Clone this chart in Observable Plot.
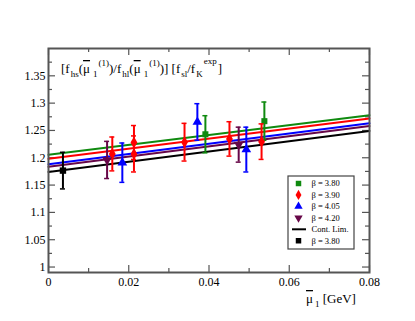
<!DOCTYPE html>
<html>
<head>
<meta charset="utf-8">
<script src="https://cdn.jsdelivr.net/npm/d3@7"></script>
<script src="https://cdn.jsdelivr.net/npm/@observablehq/plot@0.6"></script>
<style>
  html, body { margin: 0; padding: 0; background: #fff; }
  #chart { width: 415px; height: 321px; }
</style>
</head>
<body>
<div id="chart"></div>
<script>
// ---- data ----
const seriesNames = ["β = 3.80", "β = 3.90", "β = 4.05", "β = 4.20"];
const seriesColors = ["#0f8a0f", "#ff0000", "#0000ff", "#670748"];
const seriesSymbols = ["square", "diamond", "triangle", "triangle"];
const seriesRotate = [0, 0, 0, 180];

const x380 = [0.0391, 0.0538];
const y380 = [1.243, 1.267];
const e380 = [0.034, 0.035];

const x390 = [0.0159, 0.0213, 0.0213, 0.0339, 0.0451, 0.0531];
const y390 = [1.207, 1.228, 1.207, 1.2285, 1.2345, 1.2295];
const e390 = [0.031, 0.031, 0.033, 0.0345, 0.0315, 0.0325];

const x405 = [0.0184, 0.0371, 0.0493];
const y405 = [1.191, 1.2655, 1.215];
const e405 = [0.036, 0.0335, 0.041];

const x420 = [0.0146, 0.0474];
const y420 = [1.196, 1.224];
const e420 = [0.034, 0.032];

const contX = [0.0036];
const contY = [1.1765];
const contE = [0.0335];

// fit lines: value at x = 0 and x = 0.08
const fitX = [0, 0.08];
const fitStart = [1.2055, 1.198, 1.188, 1.1835, 1.174];
const fitEnd = [1.278, 1.272, 1.263, 1.258, 1.249];
const fitColors = ["#0f8a0f", "#ff0000", "#0000ff", "#670748", "#000000"];

const xMajor = [0, 0.02, 0.04, 0.06, 0.08];
const xMinor = [0.01, 0.03, 0.05, 0.07];
const yMajor = [1, 1.05, 1.1, 1.15, 1.2, 1.25, 1.3, 1.35];
const yMinor = [1.025, 1.075, 1.125, 1.175, 1.225, 1.275, 1.325, 1.375];

const legendLabels = ["β = 3.80", "β = 3.90", "β = 4.05", "β = 4.20", "Cont. Lim.", "β = 3.80"];

// ---- build tables ----
const seriesX = [x380, x390, x405, x420];
const seriesY = [y380, y390, y405, y420];
const seriesE = [e380, e390, e405, e420];
const points = [];
seriesX.forEach((xs, s) => xs.forEach((x, i) => points.push({s, x, y: seriesY[s][i], e: seriesE[s][i]})));
const cont = contX.map((x, i) => ({x, y: contY[i], e: contE[i]}));
const fitLines = [];
fitStart.forEach((v, s) => {
  fitLines.push({s, x: fitX[0], y: v});
  fitLines.push({s, x: fitX[1], y: fitEnd[s]});
});

const W = 415, H = 321, mL = 48, mR = 46, mT = 48, mB = 49;
const iw = W - mL - mR, ih = H - mT - mB;
const fmt = d => String(+d.toFixed(3));
const axisCol = "#555";

const marks = [];
// tick marks (inward) on all four sides
[[yMajor, 7], [yMinor, 4]].forEach(([vals, len]) => {
  marks.push(Plot.tickY(vals, {y: d => d, insetRight: iw - len, stroke: axisCol, strokeWidth: 1.2}));
  marks.push(Plot.tickY(vals, {y: d => d, insetLeft: iw - len, stroke: axisCol, strokeWidth: 1.2}));
});
[[xMajor, 7], [xMinor, 4]].forEach(([vals, len]) => {
  marks.push(Plot.tickX(vals, {x: d => d, insetTop: ih - len, stroke: axisCol, strokeWidth: 1.2}));
  marks.push(Plot.tickX(vals, {x: d => d, insetBottom: ih - len, stroke: axisCol, strokeWidth: 1.2}));
});
marks.push(Plot.axisY({ticks: yMajor, tickSize: 0, tickPadding: 3, tickFormat: fmt, fontSize: 12, label: null}));
marks.push(Plot.axisX({ticks: xMajor, tickSize: 0, tickPadding: 5, tickFormat: fmt, fontSize: 12, label: null}));

// fit lines
marks.push(Plot.line(fitLines, {x: "x", y: "y", z: "s", stroke: d => fitColors[d.s], strokeWidth: 2}));

// error bars + markers per series
seriesNames.forEach((name, s) => {
  const pts = points.filter(p => p.s === s);
  const c = seriesColors[s];
  marks.push(Plot.ruleX(pts, {x: "x", y1: d => d.y - d.e, y2: d => d.y + d.e, stroke: c, strokeWidth: 2}));
  marks.push(Plot.ruleY(pts, {x1: "x", x2: "x", y: d => d.y - d.e, insetLeft: -2.5, insetRight: -2.5, stroke: c, strokeWidth: 1.5}));
  marks.push(Plot.ruleY(pts, {x1: "x", x2: "x", y: d => d.y + d.e, insetLeft: -2.5, insetRight: -2.5, stroke: c, strokeWidth: 1.5}));
  marks.push(Plot.dot(pts, {x: "x", y: "y", symbol: seriesSymbols[s], rotate: seriesRotate[s], r: s === 0 ? 3.4 : 3.6, fill: c, stroke: "none"}));
});
marks.push(Plot.ruleX(cont, {x: "x", y1: d => d.y - d.e, y2: d => d.y + d.e, stroke: "#000", strokeWidth: 2}));
marks.push(Plot.ruleY(cont, {x1: "x", x2: "x", y: d => d.y - d.e, insetLeft: -2.5, insetRight: -2.5, stroke: "#000", strokeWidth: 1.5}));
marks.push(Plot.ruleY(cont, {x1: "x", x2: "x", y: d => d.y + d.e, insetLeft: -2.5, insetRight: -2.5, stroke: "#000", strokeWidth: 1.5}));
marks.push(Plot.dot(cont, {x: "x", y: "y", symbol: "square", r: 3.6, fill: "#000"}));

marks.push(Plot.frame({stroke: axisCol, strokeWidth: 2}));

const plot = Plot.plot({
  width: W, height: H,
  marginLeft: mL, marginRight: mR, marginTop: mT, marginBottom: mB,
  style: {fontFamily: "'Liberation Serif', 'Times New Roman', serif", fontSize: "12px", color: "#000", background: "#fff"},
  x: {domain: [0, 0.08]},
  y: {domain: [0.99, 1.40]},
  marks
});
document.getElementById("chart").appendChild(plot);

// ---- title inside the plot, with sub/superscripts ----
const svg = d3.select(plot);
function richText(x, y, size, segs) {
  const t = svg.append("text").attr("x", x).attr("y", y).attr("text-anchor", "start")
    .attr("font-family", "'Liberation Serif', serif").attr("font-size", size).attr("fill", "#000");
  let cur = 0;
  segs.forEach(sg => {
    const off = sg.off || 0;
    const ts = t.append("tspan").text(sg.t).attr("dy", off - cur);
    if (sg.dx) ts.attr("dx", sg.dx);
    if (sg.size) ts.attr("font-size", sg.size);
    if (sg.over) ts.style("text-decoration", "overline");
    cur = off;
  });
  return t;
}
const sub = 4, sup = -7, ss = 9;
richText(61, 73, 13, [
  {t: "[f"}, {t: "hs", off: sub, size: ss, dx: 1}, {t: "(", off: 0},
  {t: "μ", over: true}, {t: "1", off: sub, size: ss, dx: 3}, {t: "(1)", off: sup, size: ss, dx: 1},
  {t: ")/f", off: 0}, {t: "hl", off: sub, size: ss, dx: 1}, {t: "(", off: 0},
  {t: "μ", over: true}, {t: "1", off: sub, size: ss, dx: 3}, {t: "(1)", off: sup, size: ss, dx: 1},
  {t: ")] [f", off: 0}, {t: "sl", off: sub, size: ss, dx: 1}, {t: "/f", off: 0},
  {t: "K", off: sub, size: ss, dx: 1}, {t: "exp", off: sup - 2, size: ss, dx: 1}, {t: "]", off: 0, dx: 1}
]);
// x axis label
richText(306, 303, 13, [
  {t: "μ", over: true}, {t: "1", off: sub, size: ss, dx: 2}, {t: " [GeV]", off: 0}
]);

// ---- legend ----
const lg = svg.append("g");
lg.append("rect").attr("x", 288).attr("y", 176).attr("width", 66).attr("height", 73)
  .attr("fill", "#fff").attr("stroke", "#444").attr("stroke-width", 1.2);
const symMap = {square: d3.symbolSquare, diamond: d3.symbolDiamond, triangle: d3.symbolTriangle};
legendLabels.forEach((lab, i) => {
  const cy = 183.5 + i * 11.45;
  if (i < 4) {
    lg.append("path").attr("d", d3.symbol(symMap[seriesSymbols[i]], 30)())
      .attr("transform", `translate(298.5,${cy}) rotate(${seriesRotate[i]})`).attr("fill", seriesColors[i]);
  } else if (i === 4) {
    lg.append("line").attr("x1", 292).attr("x2", 306).attr("y1", cy).attr("y2", cy)
      .attr("stroke", "#000").attr("stroke-width", 2);
  } else {
    lg.append("path").attr("d", d3.symbol(d3.symbolSquare, 30)())
      .attr("transform", `translate(298.5,${cy})`).attr("fill", "#000");
  }
  lg.append("text").attr("x", 311.5).attr("y", cy).attr("dy", "0.35em").attr("text-anchor", "start")
    .attr("font-family", "'Liberation Serif', serif").attr("font-size", 8.5).attr("fill", "#000").text(lab);
});
</script>
</body>
</html>
